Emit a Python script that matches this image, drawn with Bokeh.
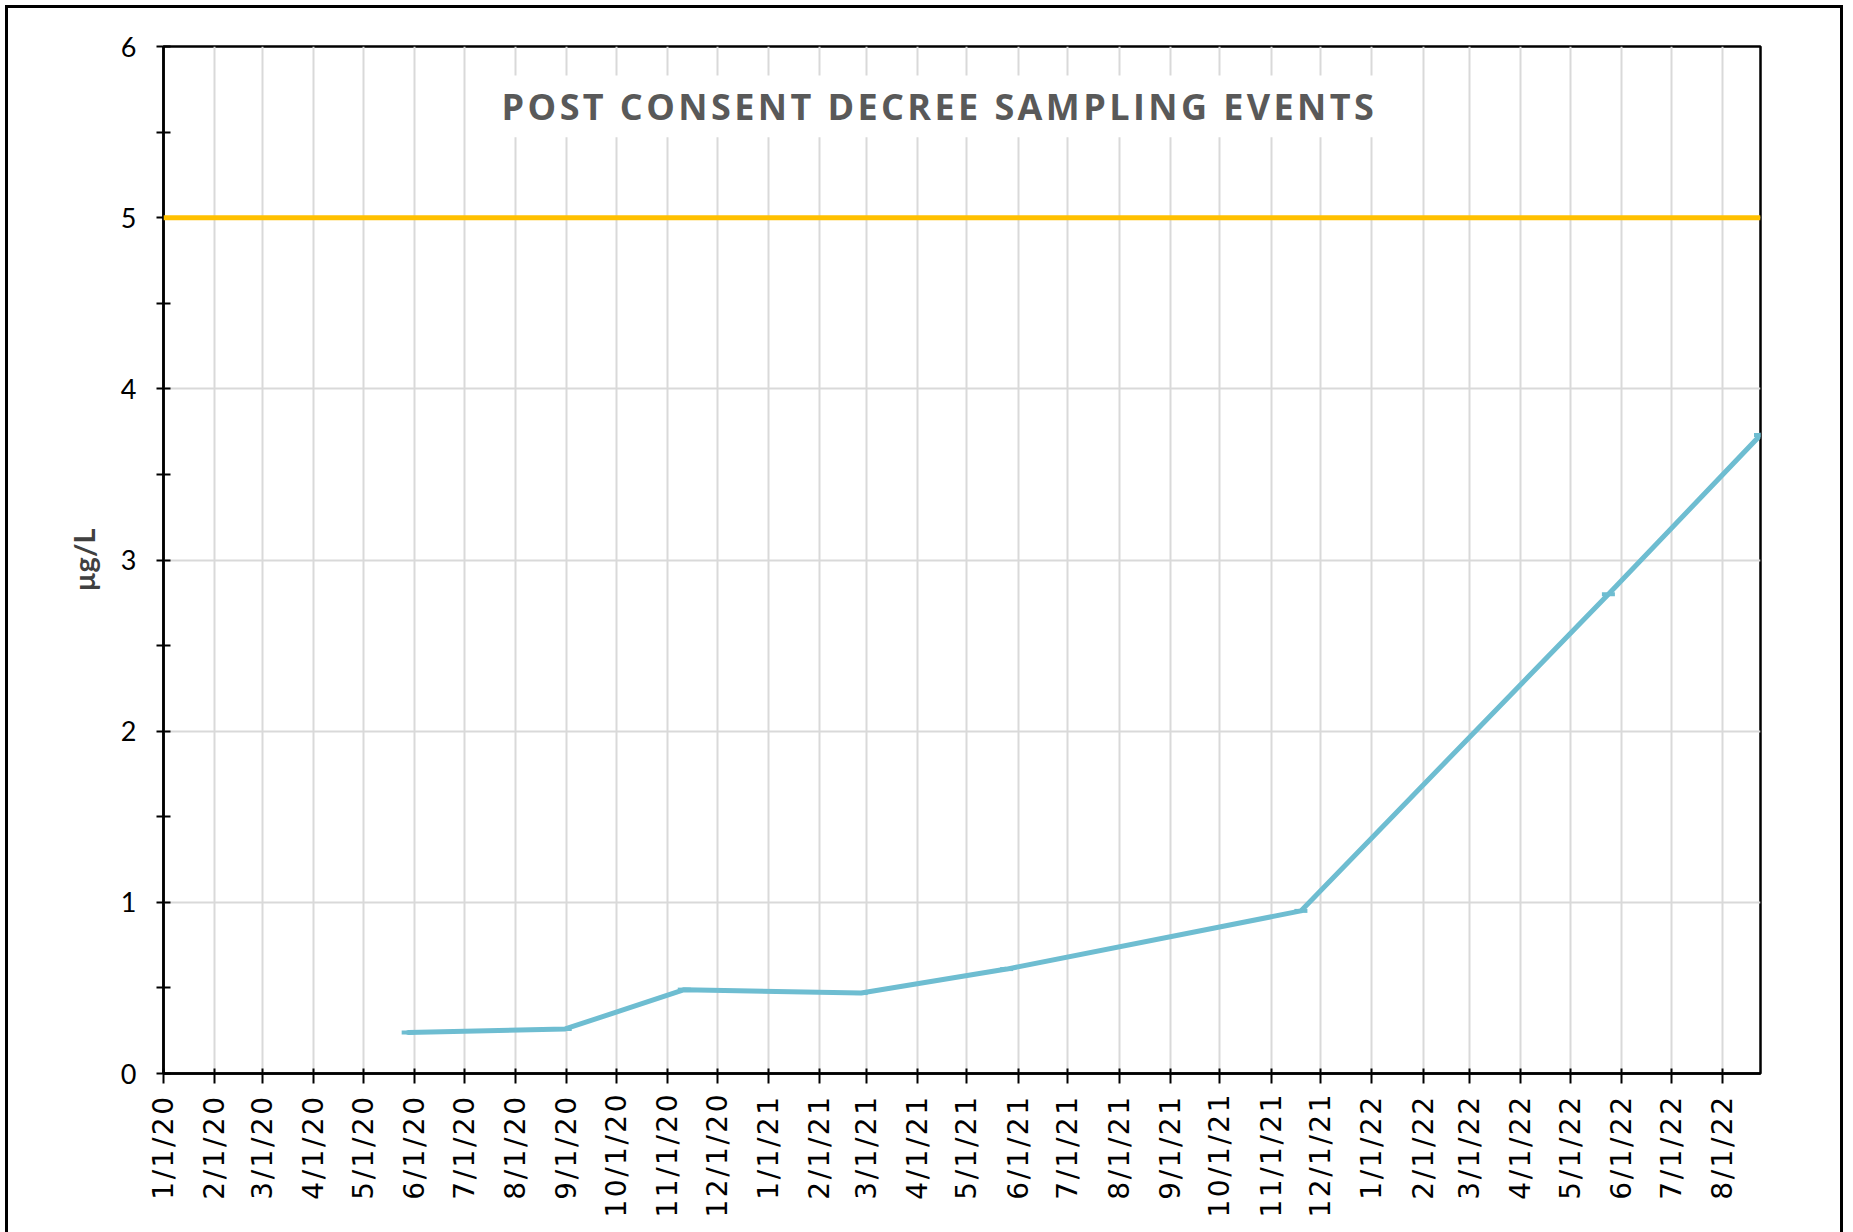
import math
import pandas as pd
from bokeh.plotting import figure
from bokeh.models import (Range1d, FixedTicker, CustomJSTickFormatter, Span, Label, BoxAnnotation)
from bokeh.embed import file_html
from bokeh.resources import INLINE

# ---- data ----
sample_dates = ["2020-05-28", "2020-08-31", "2020-11-11", "2021-02-26",
                "2021-05-25", "2021-11-19", "2022-05-24", "2022-08-24"]
sample_values = [0.24, 0.26, 0.49, 0.47, 0.61, 0.95, 2.80, 3.73]
limit_value = 5
tick_labels = ["1/1/20", "2/1/20", "3/1/20", "4/1/20", "5/1/20", "6/1/20", "7/1/20",
               "8/1/20", "9/1/20", "10/1/20", "11/1/20", "12/1/20", "1/1/21", "2/1/21",
               "3/1/21", "4/1/21", "5/1/21", "6/1/21", "7/1/21", "8/1/21", "9/1/21",
               "10/1/21", "11/1/21", "12/1/21", "1/1/22", "2/1/22", "3/1/22", "4/1/22",
               "5/1/22", "6/1/22", "7/1/22", "8/1/22"]
title_text = "POST CONSENT DECREE SAMPLING EVENTS"
y_label = "µg/L"

dates = pd.to_datetime(sample_dates)
ticks = pd.to_datetime(tick_labels, format="%m/%d/%y")
to_ms = lambda ts: ts.value / 1e6

x_start = ticks[0]
x_end = dates[-1]
span = x_end - x_start

p = figure(width=1838, height=1227, output_backend="svg", toolbar_location=None,
           x_axis_type="datetime",
           x_range=Range1d(to_ms(x_start), to_ms(x_end)),
           y_range=Range1d(0, 6),
           min_border_left=155, min_border_right=86,
           min_border_top=38, min_border_bottom=162)
p.styles = {"margin-left": "5px", "margin-top": "5px",
            "border-top": "3px solid black", "border-left": "3px solid black",
            "border-right": "3px solid black"}

p.background_fill_color = "white"
p.border_fill_color = "white"
p.outline_line_color = "black"
p.outline_line_width = 2.5

# grid
p.xgrid.ticker = FixedTicker(ticks=[to_ms(t) for t in ticks])
p.xgrid.grid_line_color = "#D9D9D9"
p.xgrid.grid_line_width = 2
p.ygrid.grid_line_color = "#D9D9D9"
p.ygrid.grid_line_width = 2

# x axis
xa = p.xaxis[0]
xa.ticker = FixedTicker(ticks=[to_ms(t) for t in ticks])
xa.formatter = CustomJSTickFormatter(args=dict(title=title_text), code="""
    if (!window.__lsTimer) {
        const collect = (root, out) => {
            for (const el of root.querySelectorAll('*')) {
                if (el.localName === 'text') out.push(el);
                if (el.shadowRoot) collect(el.shadowRoot, out);
            }
        };
        const setLS = (t, v) => { if (t.getAttribute('letter-spacing') !== v) t.setAttribute('letter-spacing', v); };
        const apply = () => {
            const out = [];
            collect(document, out);
            for (const t of out) {
                const s = t.textContent || '';
                if (/^\\d+\\/\\d+\\/\\d+$/.test(s)) setLS(t, '2.5px');
                else if (s === title) setLS(t, '3.4px');
            }
        };
        window.__lsTimer = setInterval(apply, 50);
    }
    const d = new Date(tick);
    return (d.getUTCMonth()+1) + '/' + d.getUTCDate() + '/' + String(d.getUTCFullYear()).slice(2);
""")
xa.major_label_orientation = math.pi / 2
xa.major_label_text_font = "DejaVu Sans"
xa.major_label_text_font_size = "28px"
xa.major_label_text_color = "black"
xa.major_label_standoff = 26
xa.axis_line_color = "black"
xa.axis_line_width = 2.5
xa.major_tick_line_color = "black"
xa.major_tick_line_width = 2
xa.major_tick_in = 5
xa.major_tick_out = 10
xa.minor_tick_line_color = None

# y axis
ya = p.yaxis[0]
ya.ticker = FixedTicker(ticks=[0, 1, 2, 3, 4, 5, 6],
                        minor_ticks=[0.5, 1.5, 2.5, 3.5, 4.5, 5.5])
ya.major_label_text_font = "Lato"
ya.major_label_text_font_size = "27px"
ya.major_label_text_color = "black"
ya.major_label_standoff = 20
ya.axis_line_color = "black"
ya.axis_line_width = 2.5
ya.major_tick_line_color = "black"
ya.major_tick_line_width = 2
ya.major_tick_in = 7
ya.major_tick_out = 7
ya.minor_tick_line_color = "black"
ya.minor_tick_line_width = 2
ya.minor_tick_in = 7
ya.minor_tick_out = 7
ya.axis_label = y_label
ya.axis_label_text_font = "Lato"
ya.axis_label_text_font_style = "bold"
ya.axis_label_text_font_size = "29px"
ya.axis_label_text_color = "#404040"
ya.axis_label_standoff = 17

# limit line
p.add_layout(Span(location=limit_value, dimension="width",
                  line_color="#FFC000", line_width=5))

# data line
p.line(x=dates, y=sample_values, line_color="#6EBDD1", line_width=5,
       line_join="round", line_cap="round")
p.scatter(x=dates, y=sample_values, marker="dash", size=13,
          line_color="#6EBDD1", line_width=4)

# title inside plot, on a white box
p.add_layout(BoxAnnotation(left=to_ms(x_start + span * 0.199),
                           right=to_ms(x_start + span * 0.770),
                           bottom=5.47, top=5.83,
                           fill_color="white", fill_alpha=1.0, line_color=None))
p.add_layout(Label(x=to_ms(x_start + span * 0.2117), y=5.65, text=title_text,
                   text_align="left", text_baseline="middle",
                   text_font="Open Sans", text_font_style="bold",
                   text_font_size="36px", text_color="#595959"))

open("out.html", "w").write(file_html(p, INLINE))
